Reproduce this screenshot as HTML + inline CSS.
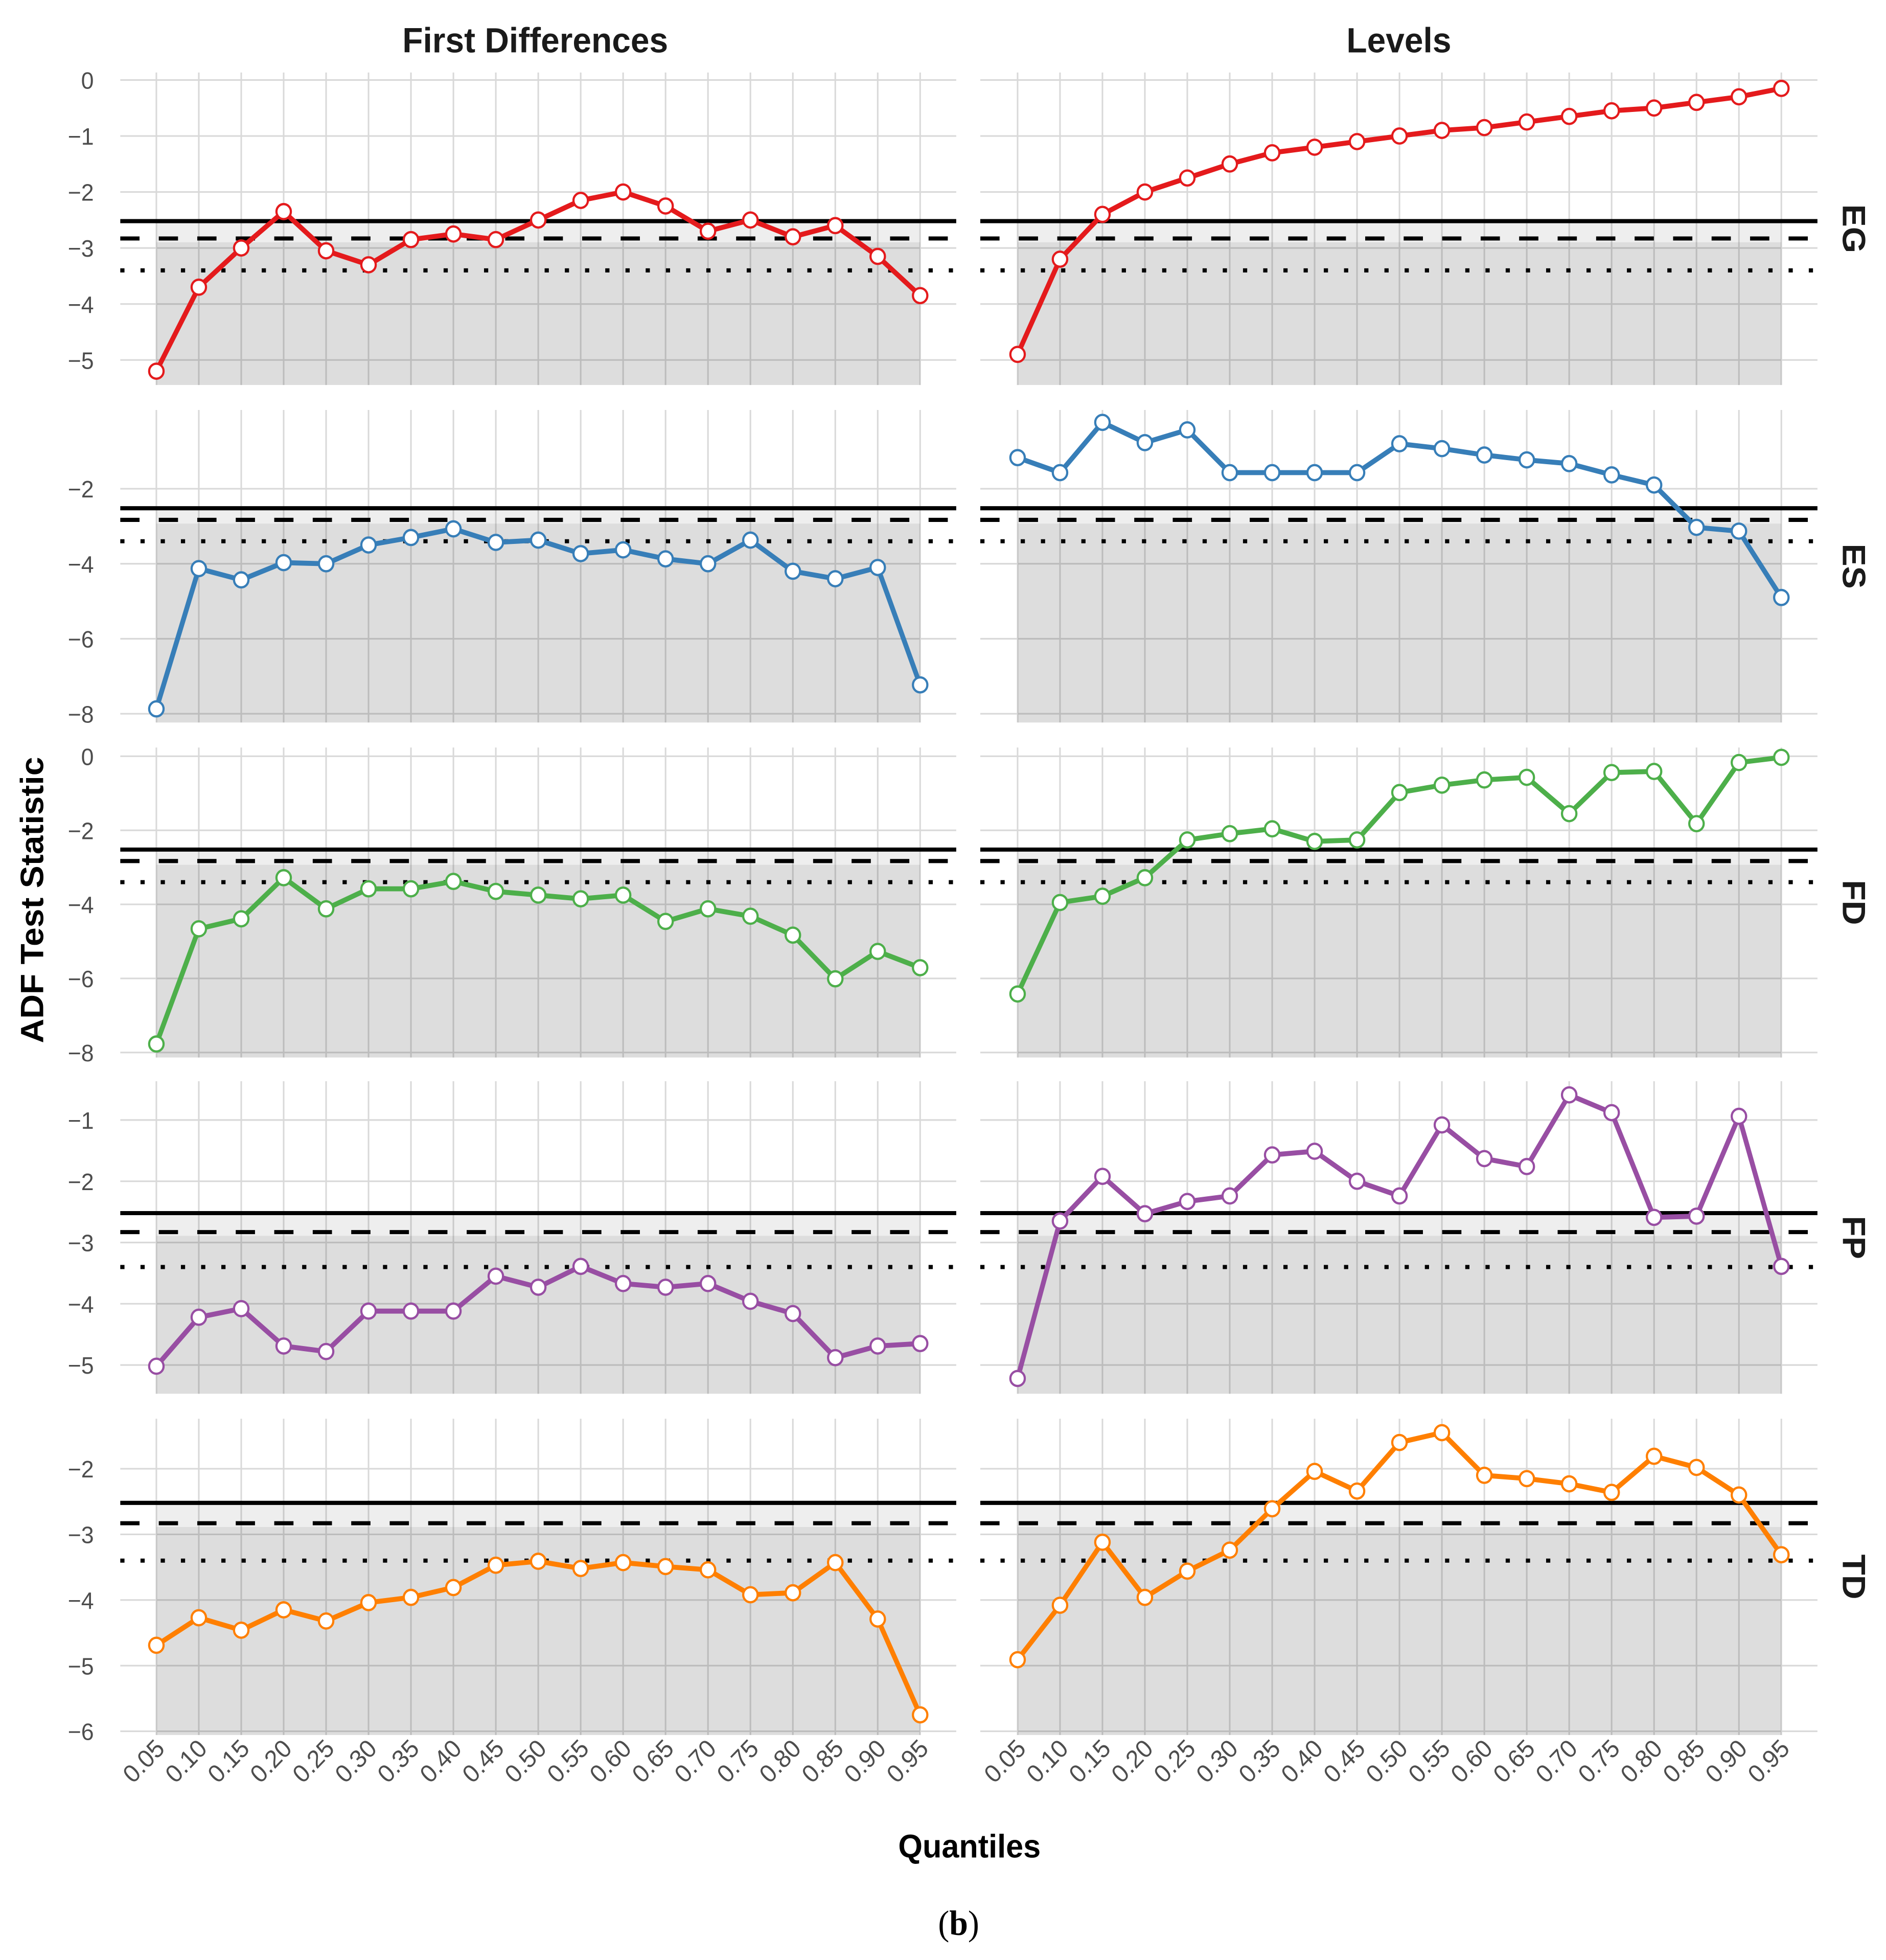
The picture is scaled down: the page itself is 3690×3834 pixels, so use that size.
<!DOCTYPE html>
<html><head><meta charset="utf-8">
<style>
html,body{margin:0;padding:0;background:#fff;}
svg{display:block;}
text{font-family:"Liberation Sans",sans-serif;}
</style></head>
<body>
<svg id="chart" width="3690" height="3834" viewBox="0 0 1568 1568" preserveAspectRatio="none" xmlns="http://www.w3.org/2000/svg">
</svg>
<script>
const quantiles = ["0.05","0.10","0.15","0.20","0.25","0.30","0.35","0.40","0.45","0.50","0.55","0.60","0.65","0.70","0.75","0.80","0.85","0.90","0.95"];
const variables = ["EG","ES","FD","FP","TD"];
const seriesColors = ["#e41a1c","#377eb8","#4daf4a","#984ea3","#ff7f00"];
const criticalValues = [-2.52,-2.83,-3.4];
const egDiff = [-5.2,-3.7,-3.0,-2.35,-3.05,-3.3,-2.85,-2.75,-2.85,-2.5,-2.15,-2.0,-2.25,-2.7,-2.5,-2.8,-2.6,-3.15,-3.85];
const egLev = [-4.9,-3.2,-2.4,-2.0,-1.75,-1.5,-1.3,-1.2,-1.1,-1.0,-0.9,-0.85,-0.75,-0.65,-0.55,-0.5,-0.4,-0.3,-0.15];
const esDiff = [-7.87,-4.13,-4.43,-3.97,-4.0,-3.5,-3.3,-3.07,-3.43,-3.37,-3.73,-3.63,-3.87,-4.0,-3.37,-4.2,-4.4,-4.1,-7.23];
const esLev = [-1.17,-1.57,-0.23,-0.77,-0.43,-1.57,-1.57,-1.57,-1.57,-0.8,-0.93,-1.1,-1.23,-1.33,-1.63,-1.9,-3.03,-3.13,-4.9];
const fdDiff = [-7.77,-4.66,-4.39,-3.28,-4.12,-3.58,-3.58,-3.38,-3.65,-3.75,-3.85,-3.75,-4.46,-4.12,-4.32,-4.83,-6.01,-5.27,-5.71];
const fdLev = [-6.42,-3.95,-3.78,-3.28,-2.26,-2.09,-1.96,-2.3,-2.26,-0.98,-0.78,-0.64,-0.57,-1.55,-0.44,-0.41,-1.82,-0.17,-0.03];
const fpDiff = [-5.02,-4.22,-4.08,-4.69,-4.78,-4.12,-4.12,-4.12,-3.55,-3.73,-3.39,-3.67,-3.73,-3.67,-3.96,-4.16,-4.88,-4.69,-4.65];
const fpLev = [-5.22,-2.65,-1.92,-2.53,-2.33,-2.24,-1.57,-1.51,-2.0,-2.24,-1.08,-1.63,-1.76,-0.59,-0.88,-2.59,-2.57,-0.94,-3.39];
const tdDiff = [-4.69,-4.27,-4.46,-4.15,-4.32,-4.04,-3.96,-3.81,-3.47,-3.41,-3.52,-3.43,-3.49,-3.54,-3.92,-3.89,-3.43,-4.29,-5.75];
const tdLev = [-4.91,-4.08,-3.12,-3.96,-3.56,-3.24,-2.61,-2.04,-2.34,-1.6,-1.45,-2.1,-2.15,-2.23,-2.36,-1.81,-1.98,-2.4,-3.31];
const yTicks = [[0,-1,-2,-3,-4,-5],[-2,-4,-6,-8],[0,-2,-4,-6,-8],[-1,-2,-3,-4,-5],[-2,-3,-4,-5,-6]];
const diffSeries = [egDiff,esDiff,fdDiff,fpDiff,tdDiff];
const levSeries = [egLev,esLev,fdLev,fpLev,tdLev];

const NS="http://www.w3.org/2000/svg";
const svg=document.getElementById('chart');
function mk(tag,attrs,parent){const e=document.createElementNS(NS,tag);for(const k in attrs)e.setAttribute(k,attrs[k]);(parent||svg).appendChild(e);return e;}

const cols=[{x0:100,x1:795,d0:130,d1:765},{x0:815,x1:1511,d0:846,d1:1481}];
const rows=[
 {top:58,bot:308,va:0,pa:64,vb:-5,pb:288},
 {top:328,bot:578,va:-2,pa:391,vb:-8,pb:571},
 {top:598,bot:846,va:0,pa:605,vb:-8,pb:842},
 {top:865,bot:1115,va:-1,pa:896,vb:-5,pb:1092},
 {top:1135,bot:1388,va:-2,pa:1175,vb:-6,pb:1385}];
function xScale(c,i){const C=cols[c];return C.d0+(C.d1-C.d0)*i/(quantiles.length-1);}
function yScale(r,v){const R=rows[r];return R.pa+(v-R.va)*(R.pb-R.pa)/(R.vb-R.va);}

for(let r=0;r<rows.length;r++){
 const R=rows[r];
 for(let c=0;c<2;c++){
  const C=cols[c];
  const g=mk('g',{});
  
  
  yTicks[r].forEach(v=>{const y=yScale(r,v);const l=mk('line',{x1:C.x0,x2:C.x1,y1:y,y2:y,stroke:'#d9d9d9','stroke-width':1.3},g);
   });
  quantiles.forEach((q,i)=>{const x=xScale(c,i);const l=mk('line',{x1:x,x2:x,y1:R.top,y2:R.bot,stroke:'#d9d9d9','stroke-width':1.3},g);
   });
  const xs=xScale(c,0), xe=xScale(c,quantiles.length-1);
  const ys=yScale(r,criticalValues[0]), ym=yScale(r,criticalValues[1])+3;
  const s1=mk('rect',{x:xs,y:ys,width:xe-xs,height:ym-ys,fill:'#000','fill-opacity':0.065},g);
  
  const s2=mk('rect',{x:xs,y:ym,width:xe-xs,height:R.bot-ym,fill:'#000','fill-opacity':0.135},g);
  
  const dashes=['none','16 16','3.5 13.3'];
  const cnames=['critical-1pct-line','critical-5pct-line','critical-10pct-line'];
  criticalValues.forEach((cv,k)=>{const y=yScale(r,cv);
   const l=mk('line',{x1:C.x0,x2:C.x1,y1:y,y2:y,stroke:'#000','stroke-width':3.3,'stroke-dasharray':dashes[k]},g);
   });
  const data=c?levSeries[r]:diffSeries[r];
  const pts=data.map((v,i)=>xScale(c,i)+','+yScale(r,v)).join(' ');
  const pl=mk('polyline',{points:pts,fill:'none',stroke:seriesColors[r],'stroke-width':4,'stroke-linejoin':'round'},g);
  
  data.forEach((v,i)=>{const p=mk('circle',{cx:xScale(c,i),cy:yScale(r,v),r:6,fill:'#fff',stroke:seriesColors[r],'stroke-width':1.8},g);
   });
 }
 yTicks[r].forEach(v=>{const t=mk('text',{x:78,y:yScale(r,v)+7,'text-anchor':'end','font-size':19,fill:'#4d4d4d'});
  t.textContent=(v<0?'\u2212'+(-v):String(v));
  });
 const cy=(R.top+R.bot)/2;
 const st=mk('text',{x:1532,y:cy,'text-anchor':'middle','font-size':27,'font-weight':'bold',fill:'#1a1a1a',transform:`rotate(90 1532 ${cy})`});
 st.textContent=variables[r];
 
}
for(let c=0;c<2;c++){quantiles.forEach((q,i)=>{const x=xScale(c,i)+8,y=1400;
 const t=mk('text',{x:x,y:y,'text-anchor':'end','font-size':20,fill:'#4d4d4d',transform:`rotate(-45 ${x} ${y})`});
 t.textContent=q;});}
let t=mk('text',{x:445,y:42,'text-anchor':'middle','font-size':28,'font-weight':'bold',fill:'#1a1a1a'});t.textContent='First Differences';

t=mk('text',{x:1163,y:42,'text-anchor':'middle','font-size':28,'font-weight':'bold',fill:'#1a1a1a'});t.textContent='Levels';

t=mk('text',{x:806,y:1486,'text-anchor':'middle','font-size':26,'font-weight':'bold',fill:'#000'});t.textContent='Quantiles';

t=mk('text',{x:36,y:720,'text-anchor':'middle','font-size':27,'font-weight':'bold',fill:'#000',transform:'rotate(-90 36 720)'});t.textContent='ADF Test Statistic';

t=mk('text',{x:797,y:1548,'text-anchor':'middle','font-size':28,fill:'#000'});
t.setAttribute('style','font-family:"Liberation Serif",serif');
t.innerHTML='(<tspan font-weight="bold">b</tspan>)';

</script>
</body></html>
